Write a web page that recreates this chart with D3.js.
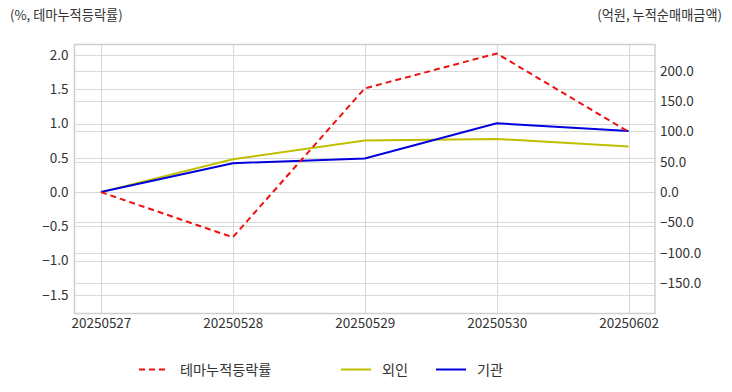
<!DOCTYPE html>
<html><head><meta charset="utf-8">
<script src="https://cdn.jsdelivr.net/npm/d3@7"></script>
<style>
body{margin:0;background:#fff;}
text{font-family:"Noto Sans CJK KR","Noto Sans",sans-serif;fill:#333;}
</style></head>
<body><svg id="c" width="732" height="392"></svg>
<script>
const dates = ["20250527","20250528","20250529","20250530","20250602"];
const themeRate = [0, -0.66, 1.515, 2.025, 0.88];
const foreign = [0, 54.3, 84.9, 87.7, 75.0];
const inst = [0, 47.7, 55.3, 113.5, 100.8];
const leftTicks = [-1.5,-1.0,-0.5,0,0.5,1.0,1.5,2.0];
const rightTicks = [-150,-100,-50,0,50,100,150,200];
const seriesNames = ["테마누적등락률","외인","기관"];
const leftTitle = "(%, 테마누적등락률)";
const rightTitle = "(억원, 누적순매매금액)";

const svg = d3.select("#c");
const L = 74.5, R = 655, T = 44.5, B = 313.5;
const x = d3.scalePoint().domain(dates).range([L,R]).padding(0.2);
const yL = d3.scaleLinear().domain([-1.773, 2.156]).range([B,T]);
const yR = d3.scaleLinear().domain([-200.2, 243.4]).range([B,T]);

const g = svg.append("g");
g.selectAll(".gl").data(leftTicks).join("line")
 .attr("x1",L).attr("x2",R).attr("y1",d=>Math.round(yL(d))+0.5).attr("y2",d=>Math.round(yL(d))+0.5)
 .attr("stroke","#d9d9d9").attr("stroke-width",1);
g.selectAll(".gr").data(rightTicks).join("line")
 .attr("x1",L).attr("x2",R).attr("y1",d=>Math.round(yR(d))+0.5).attr("y2",d=>Math.round(yR(d))+0.5)
 .attr("stroke","#d9d9d9").attr("stroke-width",1);
g.selectAll(".gx").data(dates).join("line")
 .attr("x1",d=>Math.round(x(d))+0.5).attr("x2",d=>Math.round(x(d))+0.5).attr("y1",T).attr("y2",B)
 .attr("stroke","#d9d9d9").attr("stroke-width",1);
g.append("rect").attr("x",L).attr("y",T).attr("width",R-L).attr("height",B-T)
 .attr("fill","none").attr("stroke","#cfcfcf").attr("stroke-width",1.5);

const axL = d3.axisLeft(yL).tickValues(leftTicks).tickFormat(d3.format(".1f")).tickSize(0).tickPadding(6);
const gL = svg.append("g").attr("transform",`translate(${L},0)`).call(axL);
const axR = d3.axisRight(yR).tickValues(rightTicks).tickFormat(d3.format(".1f")).tickSize(0).tickPadding(5);
const gR = svg.append("g").attr("transform",`translate(${R},0)`).call(axR);
const axB = d3.axisBottom(x).tickSize(0).tickPadding(5);
const gB = svg.append("g").attr("transform",`translate(0,${B})`).call(axB);
[gL,gR,gB].forEach(a=>{a.select(".domain").remove();a.selectAll("text").attr("font-size",13.5).attr("fill","#333").style("font-family",'"Noto Sans CJK KR","Noto Sans",sans-serif');});

const lineL = d3.line().x((d,i)=>x(dates[i])).y(d=>yL(d));
const lineR = d3.line().x((d,i)=>x(dates[i])).y(d=>yR(d));
svg.append("path").attr("d",lineR(foreign)).attr("fill","none").attr("stroke","#bfbf00").attr("stroke-width",2);
svg.append("path").attr("d",lineR(inst)).attr("fill","none").attr("stroke","#0000dd").attr("stroke-width",2);
svg.append("path").attr("d",lineL(themeRate)).attr("fill","none").attr("stroke","#ee1111").attr("stroke-width",2).attr("stroke-dasharray","6,4");

svg.append("text").attr("x",10).attr("y",20).attr("font-size",13.2).text(leftTitle);
svg.append("text").attr("x",722).attr("y",20).attr("font-size",13.2).attr("text-anchor","end").text(rightTitle);

const leg = [
 {name:seriesNames[0], color:"#ee1111", dash:"6,4", x1:139, x2:168, tx:180},
 {name:seriesNames[1], color:"#bfbf00", dash:null, x1:341, x2:371, tx:382},
 {name:seriesNames[2], color:"#0000dd", dash:null, x1:436, x2:466, tx:477}
];
const lg = svg.append("g");
leg.forEach(l=>{
  lg.append("line").attr("x1",l.x1).attr("x2",l.x2).attr("y1",369.5).attr("y2",369.5)
    .attr("stroke",l.color).attr("stroke-width",2).attr("stroke-dasharray",l.dash);
  lg.append("text").attr("x",l.tx).attr("y",374.5).attr("font-size",14.2).text(l.name);
});
</script></body></html>
